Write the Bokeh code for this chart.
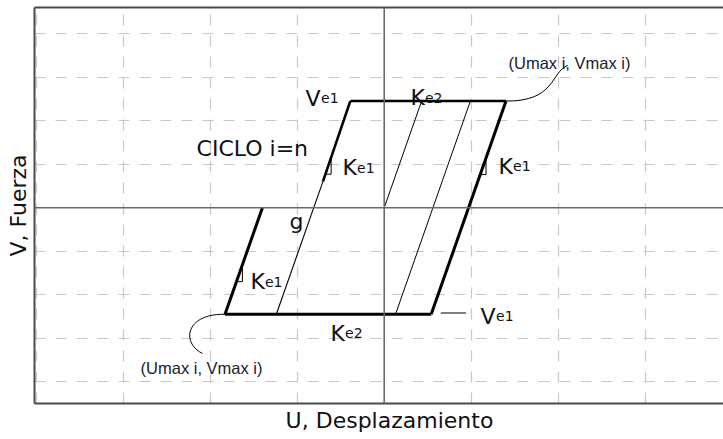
from bokeh.plotting import figure
from bokeh.models import LinearAxis, FixedTicker, Span
from bokeh.core.properties import value
from bokeh.embed import file_html
from bokeh.resources import INLINE

# --- Diagram values (U = displacement, V = force) ---------------------------
v_max = 2.45
v_min = -2.45

# envelope of the cycle i = n
top_u = [-0.39, 1.40]
top_v = [v_max, v_max]
bot_u = [-1.83, 0.54]
bot_v = [v_min, v_min]
unload_u = [1.40, 0.54]
unload_v = [v_max, v_min]
reload_low_u = [-1.83, -1.40]
reload_low_v = [v_min, 0.0]
reload_thin_u = [-1.24, -0.705]
reload_thin_v = [v_min, 0.60]
reload_thick_u = [-0.705, -0.39]
reload_thick_v = [0.60, v_max]

# inner stiffness lines
inner_u = [[0.0, 0.43], [0.13, 0.99]]
inner_v = [[0.0, v_max], [v_min, v_max]]

# slope markers (Ke1)
mark_u = [[-0.61, -0.61, -0.68], [1.17, 1.17, 1.10], [-1.63, -1.63, -1.70]]
mark_v = [[1.16, 0.77, 0.77], [1.15, 0.76, 0.76], [-1.33, -1.70, -1.70]]

# short leader next to the lower Ve1
lead_u = [0.65, 0.94]
lead_v = [-2.42, -2.42]

# curved leaders to the (Umax i, Vmax i) notes
curve_x0 = [1.40, -1.83]
curve_y0 = [v_max, v_min]
curve_cx0 = [1.97, -2.28]
curve_cy0 = [2.44, -2.43]
curve_cx1 = [1.91, -2.34]
curve_cy1 = [3.11, -3.10]
curve_x1 = [2.11, -2.09]
curve_y1 = [3.27, -3.35]

# labels: main letter + subscript
lab_main = ["V", "K", "K", "K", "K", "K", "V"]
lab_sub = ["e1", "e2", "e1", "e1", "e1", "e2", "e1"]
lab_u = [-0.904, 0.302, -0.479, 1.314, -1.537, -0.617, 1.107]
lab_v = [2.51, 2.53, 0.92, 0.95, -1.70, -2.89, -2.50]
sub_shift = [15.5, 14.5, 14.5, 14.5, 14.5, 14.5, 15.5]

note_text = ["(Umax i, Vmax i)", "(Umax i, Vmax i)"]
note_u = [1.429, -2.801]
note_v = [3.32, -3.69]

grid_u = [-4, -3, -2, -1, 1, 2, 3, 4]
grid_v = [-4, -3, -2, -1, 1, 2, 3, 4]

FONT = "DejaVu Sans"
INK = "#111111"
NBSP = "\u00a0"

p = figure(width=723, height=439, x_range=(-4.02, 3.9), y_range=(-4.5, 4.6),
           output_backend="svg", toolbar_location=None,
           x_axis_location=None, y_axis_location=None,
           min_border_left=34, min_border_right=0, min_border_top=7,
           min_border_bottom=36, outline_line_color=None,
           background_fill_color="white", border_fill_color="white")

# dashed grid
for g, ticks in ((p.xgrid, grid_u), (p.ygrid, grid_v)):
    g.ticker = FixedTicker(ticks=ticks)
    g.grid_line_color = "#c8c8c8"
    g.grid_line_width = 1.2
    g.grid_line_dash = "11 10"

# frame on left, top and bottom (axis titles live on left and bottom)
titles = {"left": "V, Fuerza", "below": NBSP * 3 + "U, Desplazamiento", "above": None}
for side, title in titles.items():
    ax = LinearAxis(ticker=FixedTicker(ticks=[]), major_label_text_font_size="0px",
                    major_label_standoff=0, major_tick_out=0, major_tick_in=0,
                    minor_tick_out=0, minor_tick_in=0,
                    major_tick_line_color=None, minor_tick_line_color=None,
                    axis_line_color="#4a4a4a", axis_line_width=2)
    if title:
        ax.axis_label = title
        ax.axis_label_text_font = FONT
        ax.axis_label_text_font_size = "22px"
        ax.axis_label_text_font_style = "normal"
        ax.axis_label_text_color = INK
        ax.axis_label_standoff = 4
    p.add_layout(ax, side)

# axes through the origin
p.add_layout(Span(location=0, dimension="height", line_color="#6a6a6a", line_width=1.6))
p.add_layout(Span(location=0, dimension="width", line_color="#6a6a6a", line_width=1.6))

# cycle branches
p.line(top_u, top_v, line_color="black", line_width=2.4)
p.line(bot_u, bot_v, line_color="black", line_width=3)
p.line(unload_u, unload_v, line_color="black", line_width=3)
p.line(reload_low_u, reload_low_v, line_color="black", line_width=3)
p.line(reload_thin_u, reload_thin_v, line_color="black", line_width=1.1)
p.line(reload_thick_u, reload_thick_v, line_color="black", line_width=2.6)
p.multi_line(inner_u, inner_v, line_color="black", line_width=1)
p.multi_line(mark_u, mark_v, line_color="black", line_width=1)
p.line(lead_u, lead_v, line_color="black", line_width=1)
p.bezier(x0=curve_x0, y0=curve_y0, x1=curve_x1, y1=curve_y1,
         cx0=curve_cx0, cy0=curve_cy0, cx1=curve_cx1, cy1=curve_cy1,
         line_color="black", line_width=1)

# stiffness / force labels
p.text(lab_u, lab_v, text=lab_main, text_font=value(FONT), text_font_size="22px",
       text_color=INK, text_align="left", text_baseline="alphabetic")
p.text(lab_u, lab_v, text=lab_sub, x_offset=sub_shift, text_font=value(FONT),
       text_font_size="14px", text_color=INK, text_align="left",
       text_baseline="alphabetic")

p.text([-2.157], [1.36], text=["CICLO i=n"], text_font=value(FONT),
       text_font_size="22px", text_color=INK, text_baseline="alphabetic")
p.text([-1.088], [-0.32], text=["g"], text_font=value(FONT),
       text_font_size="22px", text_color=INK, text_baseline="alphabetic")

p.text(note_u, note_v, text=note_text, text_font=value("Liberation Sans"),
       text_font_size="16.5px", text_color="#20202e", text_baseline="alphabetic")

open("out.html", "w").write(file_html(p, INLINE))
